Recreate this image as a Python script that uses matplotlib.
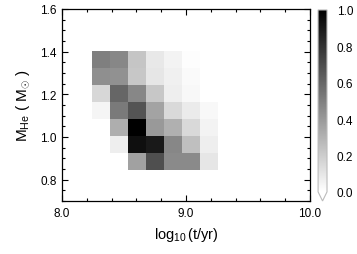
import numpy as np
import matplotlib
matplotlib.use('Agg')
import matplotlib.pyplot as plt
from matplotlib.colors import LinearSegmentedColormap
from matplotlib.ticker import MultipleLocator

# bin edges
x_edges = [8.245, 8.390, 8.535, 8.680, 8.825, 8.970, 9.115, 9.260]
y_edges = [0.847, 0.926, 1.005, 1.085, 1.164, 1.243, 1.323, 1.402]

# normalised counts, rows from bottom (low mass) to top
counts = [
    [0.00, 0.00, 0.37, 0.69, 0.46, 0.46, 0.10],
    [0.00, 0.07, 0.94, 0.90, 0.47, 0.25, 0.07],
    [0.00, 0.32, 1.00, 0.40, 0.31, 0.15, 0.05],
    [0.04, 0.52, 0.67, 0.36, 0.15, 0.08, 0.03],
    [0.16, 0.60, 0.47, 0.22, 0.07, 0.03, 0.00],
    [0.44, 0.43, 0.22, 0.10, 0.06, 0.02, 0.00],
    [0.50, 0.47, 0.23, 0.09, 0.05, 0.01, 0.00],
]

cbar_ticks = [0.0, 0.2, 0.4, 0.6, 0.8, 1.0]

plt.rcParams['font.family'] = ['Liberation Sans', 'DejaVu Sans']
plt.rcParams['mathtext.fontset'] = 'custom'
plt.rcParams['mathtext.rm'] = 'Liberation Sans'
plt.rcParams['mathtext.it'] = 'Liberation Sans'

fig = plt.figure(figsize=(3.57, 2.55), dpi=100)
ax = fig.add_axes([0.1737, 0.208, 0.6945, 0.753])
cax = fig.add_axes([0.891, 0.208, 0.025, 0.749])

cmap = LinearSegmentedColormap.from_list('wb', ['white', 'black'])
mesh = ax.pcolormesh(x_edges, y_edges, np.array(counts), cmap=cmap,
                     vmin=0, vmax=1, shading='flat')

ax.set_xlim(8.0, 10.0)
ax.set_ylim(0.7, 1.6)
ax.set_xticks([8.0, 9.0, 10.0])
ax.set_xticklabels(['8.0', '9.0', '10.0'])
ax.xaxis.set_minor_locator(MultipleLocator(0.2))
ax.set_yticks([0.8, 1.0, 1.2, 1.4, 1.6])
ax.set_yticklabels(['0.8', '1.0', '1.2', '1.4', '1.6'])
ax.yaxis.set_minor_locator(MultipleLocator(0.05))
ax.tick_params(which='both', direction='in', top=True, right=True,
               labelsize=8.5, width=0.8, pad=4)
ax.tick_params(which='major', length=4.5)
ax.tick_params(which='minor', length=2.5)
for s in ax.spines.values():
    s.set_linewidth(0.9)

ax.set_xlabel(r'$\mathrm{log_{10}}\,(\mathrm{t/yr})$', fontsize=10.5, labelpad=5)
ax.set_ylabel(r'$\mathrm{M_{He}}\ (\ \mathrm{M}_{\odot}\ )$', fontsize=11, labelpad=6)

cb = fig.colorbar(mesh, cax=cax, extend='min', ticks=cbar_ticks)
cb.ax.set_yticklabels(['0.0', '0.2', '0.4', '0.6', '0.8', '1.0'])
cb.ax.tick_params(length=0, labelsize=8.5, pad=7)
cb.outline.set_edgecolor('#bbbbbb')
cb.outline.set_linewidth(0.8)

fig.savefig('out.png', dpi=100)
